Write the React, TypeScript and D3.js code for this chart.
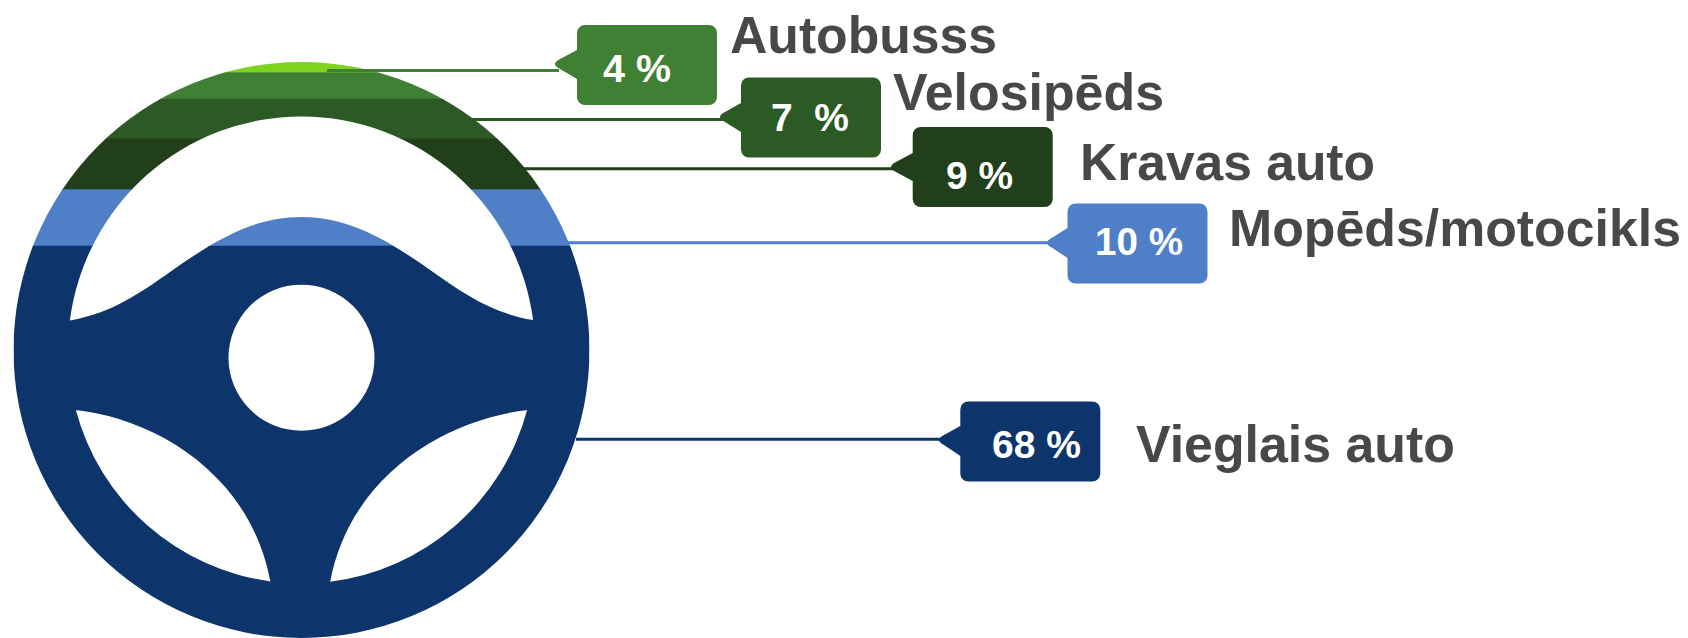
import React from "react";
import * as d3 from "d3";

// ---- data ----
const categories = ["", "Autobusss", "Velosipēds", "Kravas auto", "Mopēds/motocikls", "Vieglais auto"];
// height of each colour band, as a percentage of the wheel's height
const bandHeights = [1.8, 4.6, 6.9, 8.8, 9.8, 68.1];
const shareLabels = ["", "4 %", "7  %", "9 %", "10 %", "68 %"];
const colors = ["#7ed321", "#3f8034", "#2c5a25", "#203f1a", "#4e7fc7", "#0d356b"];

// ---- layout ----
const W = 1688;
const H = 638;
const CX = 301.5;
const CY = 350;
const R = 288;
const RIN = 233.5;

// per-callout placement: leader start, leader y, tip, box, label, value text
const calloutLayout = [
  null,
  { x0: 327, ly: 70.5, tipX: 555, tipY: 64, bx: 577, by: 25, ey0: 50, ey1: 79, tx: 603, tw: 68, ty: 81.5, lx: 730, lw: 267, lb: 52.5 },
  { x0: 472, ly: 119.5, tipX: 720, tipY: 117, bx: 741, by: 77.5, ey0: 103, ey1: 132, tx: 771, tw: 78, ty: 130.5, lx: 893, lw: 271, lb: 110 },
  { x0: 522, ly: 168.8, tipX: 891, tipY: 167, bx: 912.7, by: 127, ey0: 153, ey1: 181, tx: 946, tw: 67, ty: 188.5, lx: 1080, lw: 295, lb: 179.5 },
  { x0: 568, ly: 242.8, tipX: 1047, tipY: 242.8, bx: 1067.5, by: 203.5, ey0: 228, ey1: 258, tx: 1095, tw: 88, ty: 255, lx: 1229, lw: 452, lb: 246 },
  { x0: 576, ly: 439.3, tipX: 939, tipY: 440, bx: 960.3, by: 401.5, ey0: 426, ey1: 456, tx: 992, tw: 89, ty: 458.3, lx: 1136, lw: 319, lb: 461.5 },
];
const BOX_W = 140;
const BOX_H = 80;
const BOX_R = 8;

// band edges: cumulative share of the wheel's height
const cumulative = d3.cumsum(bandHeights);
const yScale = d3.scaleLinear().domain([0, 100]).range([CY - R, CY + R]);

function wheelPath(): string {
  const p = d3.path();
  p.moveTo(CX + R, CY);
  p.arc(CX, CY, R, 0, Math.PI * 2);
  p.closePath();
  // hub hole
  p.moveTo(CX + 73, 357.7);
  p.arc(CX, 357.7, 73, 0, Math.PI * 2);
  p.closePath();
  // top crescent
  const aR = Math.atan2(320 - CY, 533 - CX);
  const aL = Math.atan2(320.5 - CY, 70 - CX);
  p.moveTo(70, 320.5);
  p.bezierCurveTo(112, 313, 140, 293, 170, 272);
  p.bezierCurveTo(210, 244, 250, 217, CX, 217);
  p.bezierCurveTo(353, 217, 393, 244, 433, 272);
  p.bezierCurveTo(463, 293, 491, 313, 533, 320);
  p.arc(CX, CY, RIN, aR, aL, true);
  p.closePath();
  // lower-left opening
  const llA = Math.atan2(410 - CY, 75.8 - CX);
  const llB = Math.atan2(582.7 - CY, 270.6 - CX);
  p.moveTo(75.8, 410);
  p.bezierCurveTo(150, 418, 250, 470, 270.6, 582.7);
  p.arc(CX, CY, RIN, llB, llA, false);
  p.closePath();
  // lower-right opening
  const lrA = Math.atan2(410 - CY, 528 - CX);
  const lrB = Math.atan2(582.7 - CY, 330 - CX);
  p.moveTo(528, 410);
  p.bezierCurveTo(453, 418, 351, 470, 330, 582.7);
  p.arc(CX, CY, RIN, lrB, lrA, true);
  p.closePath();
  return p.toString();
}

function calloutPath(c: NonNullable<(typeof calloutLayout)[number]>): string {
  const p = d3.path();
  const x1 = c.bx + BOX_W;
  const y1 = c.by + BOX_H;
  p.moveTo(c.bx + BOX_R, c.by);
  p.lineTo(x1 - BOX_R, c.by);
  p.arcTo(x1, c.by, x1, c.by + BOX_R, BOX_R);
  p.lineTo(x1, y1 - BOX_R);
  p.arcTo(x1, y1, x1 - BOX_R, y1, BOX_R);
  p.lineTo(c.bx + BOX_R, y1);
  p.arcTo(c.bx, y1, c.bx, y1 - BOX_R, BOX_R);
  p.lineTo(c.bx, c.ey1);
  p.lineTo(c.tipX + 5, c.tipY + 5);
  p.quadraticCurveTo(c.tipX - 5, c.tipY, c.tipX + 5, c.tipY - 5);
  p.lineTo(c.bx, c.ey0);
  p.lineTo(c.bx, c.by + BOX_R);
  p.arcTo(c.bx, c.by, c.bx + BOX_R, c.by, BOX_R);
  p.closePath();
  return p.toString();
}

export default function App() {
  const d = wheelPath();
  const font = "'Liberation Sans', Arial, sans-serif";
  return (
    <svg
      width={W}
      height={H}
      viewBox={`0 0 ${W} ${H}`}
      style={{ position: "absolute", left: 0, top: 0, background: "#fff" }}
    >
      <defs>
        <clipPath id="wheel">
          <path d={d} clipRule="evenodd" />
        </clipPath>
      </defs>
      <g clipPath="url(#wheel)">
        {bandHeights.map((s, i) => {
          const y0 = yScale(i === 0 ? 0 : cumulative[i - 1]);
          const y1 = i === bandHeights.length - 1 ? yScale(100) : yScale(cumulative[i]) + 1;
          return <rect key={i} x={CX - R} y={y0} width={R * 2} height={y1 - y0} fill={colors[i]} />;
        })}
      </g>
      {categories.map((name, i) => {
        const c = calloutLayout[i];
        if (!c) return null;
        return (
          <g key={name}>
            <line x1={c.x0} x2={c.tipX + 4} y1={c.ly} y2={c.ly} stroke={colors[i]} strokeWidth={3} />
            <path d={calloutPath(c)} fill={colors[i]} />
            <text
              x={c.tx}
              y={c.ty}
              fill="#fff"
              fontFamily={font}
              fontWeight={700}
              fontSize={38}
              textLength={c.tw}
              lengthAdjust="spacingAndGlyphs"
              xmlSpace="preserve"
            >
              {shareLabels[i]}
            </text>
            <text
              x={c.lx}
              y={c.lb}
              fill="#484848"
              fontFamily={font}
              fontWeight={700}
              fontSize={52}
              textLength={c.lw}
              lengthAdjust="spacingAndGlyphs"
            >
              {name}
            </text>
          </g>
        );
      })}
    </svg>
  );
}
